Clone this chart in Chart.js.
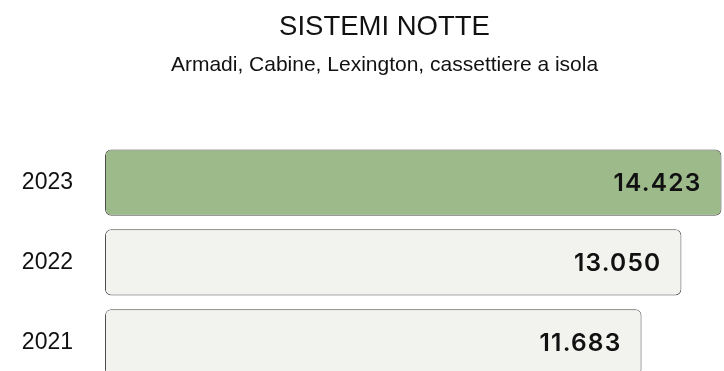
<!DOCTYPE html>
<html>
<head>
<meta charset="utf-8">
<script src="https://cdn.jsdelivr.net/npm/chart.js@4.4.1/dist/chart.umd.min.js"></script>
<style>
  html, body { margin: 0; padding: 0; background: #fff; overflow: hidden; }
  canvas { display: block; }
</style>
</head>
<body>
<canvas id="myChart" width="769" height="396"></canvas>
<script>
const years = ['2023', '2022', '2021'];
const totals = [14423, 13050, 11683];
const fills = ['#9dba8b', '#f2f3ee', '#f2f3ee'];

const titleText = 'SISTEMI NOTTE';
const subtitleText = 'Armadi, Cabine, Lexington, cassettiere a isola';

function fmt(n) {
  return String(n).replace(/\B(?=(\d{3})+(?!\d))/g, '.');
}

// numbers inside the bars, right aligned
const valueLabels = {
  id: 'valueLabels',
  afterDatasetsDraw(chart) {
    const c = chart.ctx;
    const meta = chart.getDatasetMeta(0);
    c.save();
    c.font = '600 24.5px Inter';
    c.letterSpacing = '1.2px';
    c.fillStyle = '#111';
    c.textAlign = 'right';
    c.textBaseline = 'middle';
    meta.data.forEach((bar, i) => {
      c.fillText(fmt(totals[i]), bar.x - 20, bar.y + 1);
    });
    c.restore();
  }
};

const ctx = document.getElementById('myChart');

new Chart(ctx, {
  type: 'bar',
  data: {
    labels: years,
    datasets: [{
      data: totals,
      base: -6704,
      backgroundColor: fills,
      borderColor: '#4d4d4d',
      borderWidth: 1,
      borderRadius: 6,
      borderSkipped: false,
      barPercentage: 0.83,
      categoryPercentage: 1
    }]
  },
  options: {
    indexAxis: 'y',
    responsive: false,
    animation: false,
    layout: { padding: 0 },
    scales: {
      x: {
        display: false,
        min: -6704,
        max: 16051
      },
      y: {
        grid: { display: false, drawTicks: true, tickLength: 32 },
        border: { display: false },
        ticks: {
          padding: 0,
          color: '#111',
          font: { family: 'Liberation Sans', size: 23 }
        },
        afterFit(s) { s.width = 105; }
      }
    },
    plugins: {
      legend: { display: false },
      tooltip: { enabled: false },
      title: {
        display: true,
        text: titleText,
        color: '#111',
        font: { family: 'Liberation Sans', size: 27.5, weight: 'normal' },
        padding: { top: 11, bottom: 9 }
      },
      subtitle: {
        display: true,
        text: subtitleText,
        color: '#111',
        font: { family: 'Liberation Sans', size: 21, weight: 'normal' },
        padding: { top: 0, bottom: 64.5 }
      }
    }
  },
  plugins: [valueLabels]
});
</script>
</body>
</html>
